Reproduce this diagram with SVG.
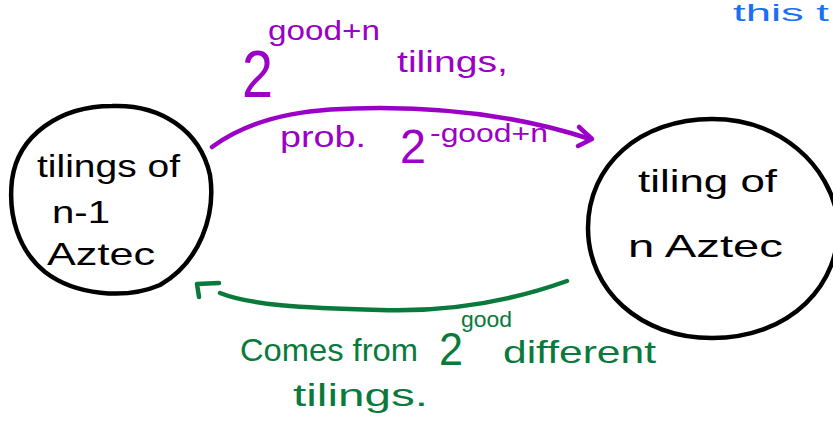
<svg xmlns="http://www.w3.org/2000/svg" width="833" height="423" viewBox="0 0 833 423">
<style>
.node{fill:none;stroke:#000;stroke-width:4.5}
.t{font-family:"Liberation Sans",Arial,sans-serif}
.k{fill:#000}
.p{fill:#9b00c6}
.g{fill:#0a7a3c}
.b{fill:#1a6ff5}
.pe{fill:none;stroke:#9b00c6;stroke-width:4.5;stroke-linecap:round;stroke-linejoin:round}
.ge{fill:none;stroke:#0a7a3c;stroke-width:4.5;stroke-linecap:round;stroke-linejoin:round}
</style>
<rect width="833" height="423" fill="#fff"/>
<text class="t b" x="733" y="21" font-size="24" textLength="96" lengthAdjust="spacingAndGlyphs">this t</text>
<g id="node-left">
<path class="node" d="M112,106 C160,104 200,130 210,175 C216,215 200,262 160,285 C125,300 75,295 45,272 C18,250 8,215 12,180 C18,135 60,106 112,106 Z"/>
<text class="t k" x="37" y="177" font-size="32" textLength="143" lengthAdjust="spacingAndGlyphs">tilings of</text>
<text class="t k" x="52" y="223" font-size="32" textLength="58" lengthAdjust="spacingAndGlyphs">n-1</text>
<text class="t k" x="47" y="265" font-size="32" textLength="108" lengthAdjust="spacingAndGlyphs">Aztec</text>
</g>
<g id="node-right">
<path class="node" d="M712,119 C780,119 830,165 838,220 C842,285 790,338 712,338 C640,338 588,290 588,228 C588,165 640,119 712,119 Z"/>
<text class="t k" x="638" y="192" font-size="32" textLength="139" lengthAdjust="spacingAndGlyphs">tiling of</text>
<text class="t k" x="628" y="257" font-size="32" textLength="155" lengthAdjust="spacingAndGlyphs">n  Aztec</text>
</g>
<g id="connectors">
<path class="pe" d="M212,147 C260,112 320,108 380,108 C450,108 520,116 590,139"/>
<path class="pe" d="M579,127 L592,139 L578,146"/>
<path class="ge" d="M567,281 C500,305 440,312 380,310 C300,308 250,305 220,293"/>
<path class="ge" d="M199,297 L197,284 L219,283"/>
</g>
<g id="label-top">
<text class="t p" x="242" y="97" font-size="66" textLength="31" lengthAdjust="spacingAndGlyphs">2</text>
<text class="t p" x="268" y="40" font-size="28" textLength="112" lengthAdjust="spacingAndGlyphs">good+n</text>
<text class="t p" x="397" y="72" font-size="30" textLength="111" lengthAdjust="spacingAndGlyphs">tilings,</text>
<text class="t p" x="280" y="147" font-size="30" textLength="86" lengthAdjust="spacingAndGlyphs">prob.</text>
<text class="t p" x="400" y="163" font-size="48" textLength="26" lengthAdjust="spacingAndGlyphs">2</text>
<text class="t p" x="430" y="142" font-size="26" textLength="118" lengthAdjust="spacingAndGlyphs">-good+n</text>
</g>
<g id="label-bottom">
<text class="t g" x="240" y="361" font-size="32" textLength="178" lengthAdjust="spacingAndGlyphs">Comes from</text>
<text class="t g" x="439" y="365" font-size="46" textLength="24" lengthAdjust="spacingAndGlyphs">2</text>
<text class="t g" x="461" y="327" font-size="22" textLength="51" lengthAdjust="spacingAndGlyphs">good</text>
<text class="t g" x="503" y="363" font-size="32" textLength="153" lengthAdjust="spacingAndGlyphs">different</text>
<text class="t g" x="293" y="406" font-size="32" textLength="135" lengthAdjust="spacingAndGlyphs">tilings.</text>
</g>
</svg>
